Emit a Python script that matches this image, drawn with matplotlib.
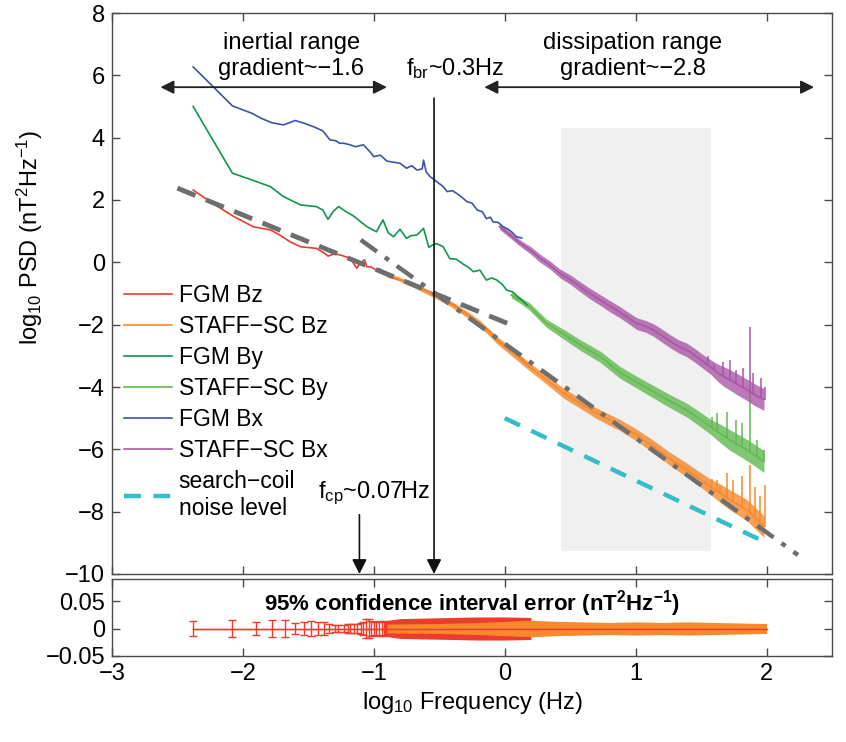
import numpy as np
import matplotlib
matplotlib.use("Agg")
import matplotlib.pyplot as plt

plt.rcParams["font.family"] = "Liberation Sans"
plt.rcParams["mathtext.fontset"] = "custom"
plt.rcParams["mathtext.rm"] = "Liberation Sans"
plt.rcParams["mathtext.it"] = "Liberation Sans:italic"
plt.rcParams["mathtext.bf"] = "Liberation Sans:bold"

# ---------------- data (log10 f, log10 PSD) ----------------
# FGM Bx (blue)
fgm_bx_x = [-2.38, -2.08, -1.93, -1.86, -1.78, -1.69, -1.60, -1.53, -1.46, -1.39, -1.335, -1.29,
            -1.26, -1.23, -1.18, -1.14, -1.08, -1.03, -1.0, -0.95, -0.90, -0.875, -0.80, -0.75,
            -0.71, -0.67, -0.63, -0.62, -0.60, -0.57, -0.52, -0.47, -0.44, -0.40, -0.37, -0.33,
            -0.29, -0.25, -0.21, -0.17, -0.14, -0.11, -0.09, -0.05, -0.01, 0.03, 0.06, 0.09, 0.13]
fgm_bx_y = [6.27, 5.02, 4.78, 4.62, 4.48, 4.41, 4.55, 4.46, 4.35, 4.22, 3.93, 3.90,
            3.82, 3.82, 3.77, 3.71, 3.77, 3.55, 3.39, 3.44, 3.25, 3.23, 3.18, 3.02,
            3.10, 2.96, 3.00, 3.28, 2.90, 2.75, 2.59, 2.43, 2.27, 2.30, 2.22, 2.10,
            1.95, 1.90, 1.68, 1.62, 1.40, 1.45, 1.30, 1.28, 1.14, 1.05, 0.95, 0.82, 0.78]

# STAFF-SC Bx (magenta): centre and half thickness of the noisy trace
sc_bx_x = [-0.04, 0.05, 0.12, 0.20, 0.27, 0.35, 0.42, 0.50, 0.575, 0.65, 0.73, 0.80, 0.88,
           0.95, 1.01, 1.08, 1.135, 1.20, 1.27, 1.33, 1.39, 1.45, 1.51, 1.57, 1.63, 1.68,
           1.72, 1.78, 1.85, 1.91, 1.98]
sc_bx_y = [1.15, 0.85, 0.61, 0.38, 0.13, -0.10, -0.35, -0.55, -0.78, -1.0, -1.21, -1.40, -1.60,
           -1.80, -1.97, -2.06, -2.17, -2.35, -2.55, -2.70, -2.81, -2.98, -3.17, -3.35, -3.55, -3.68,
           -3.77, -3.92, -4.09, -4.25, -4.40]
sc_bx_hw = [0.09, 0.10, 0.10, 0.12, 0.13, 0.13, 0.14, 0.15, 0.16, 0.17, 0.17, 0.18, 0.18,
            0.18, 0.19, 0.19, 0.20, 0.21, 0.21, 0.21, 0.22, 0.22, 0.22, 0.23, 0.28, 0.32,
            0.33, 0.34, 0.34, 0.35, 0.35]
sc_bx_spike_x = [1.555, 1.60, 1.67, 1.72, 1.77, 1.82, 1.875, 1.90, 1.96, 1.99]
sc_bx_spike_lo = [-3.30, -3.45, -3.62, -3.77, -3.90, -4.02, -4.15, -4.20, -4.35, -4.42]
sc_bx_spike_hi = [-3.02, -3.25, -3.19, -3.13, -3.45, -3.40, -2.06, -3.56, -3.72, -3.99]

# FGM By (dark green)
fgm_by_x = [-2.38, -2.08, -1.97, -1.79, -1.69, -1.56, -1.44, -1.39, -1.35, -1.31, -1.27, -1.22,
            -1.16, -1.10, -1.055, -0.98, -0.93, -0.89, -0.85, -0.80, -0.75, -0.72, -0.67, -0.62,
            -0.58, -0.55, -0.52, -0.47, -0.42, -0.37, -0.32, -0.28, -0.24, -0.19, -0.14, -0.10,
            -0.06, -0.02, 0.015, 0.06, 0.10, 0.14, 0.17]
fgm_by_y = [5.0, 2.86, 2.70, 2.43, 2.11, 1.84, 1.79, 1.68, 1.38, 1.63, 1.79, 1.65,
            1.50, 1.30, 1.15, 0.98, 1.36, 0.95, 0.82, 1.06, 0.77, 0.85, 0.88, 1.09,
            0.48, 0.56, 0.60, 0.50, 0.12, 0.10, -0.05, -0.15, -0.30, -0.25, -0.57, -0.50,
            -0.57, -0.70, -0.89, -0.95, -1.10, -1.25, -1.37]

# STAFF-SC By (light green)
sc_by_x = [0.05, 0.12, 0.19, 0.32, 0.47, 0.575, 0.73, 0.88, 1.01, 1.135, 1.26, 1.39,
           1.48, 1.57, 1.65, 1.72, 1.85, 1.98]
sc_by_y = [-1.05, -1.22, -1.42, -1.96, -2.36, -2.65, -3.03, -3.53, -3.85, -4.15, -4.45, -4.74,
           -5.00, -5.27, -5.50, -5.70, -6.02, -6.39]
sc_by_hw = [0.09, 0.10, 0.12, 0.13, 0.16, 0.17, 0.18, 0.19, 0.19, 0.20, 0.21, 0.22,
            0.23, 0.24, 0.30, 0.33, 0.34, 0.35]
sc_by_spike_x = [1.58, 1.62, 1.70, 1.77, 1.81, 1.875, 1.925, 1.98]
sc_by_spike_lo = [-5.30, -5.42, -5.65, -5.80, -5.92, -6.08, -6.22, -6.39]
sc_by_spike_hi = [-4.95, -4.84, -4.79, -5.06, -5.16, -4.10, -5.70, -6.02]

# FGM Bz (red)
fgm_bz_x = [-2.38, -2.23, -2.07, -1.92, -1.79, -1.72, -1.64, -1.56, -1.44, -1.38, -1.35, -1.30,
            -1.26, -1.18, -1.13, -1.105, -1.07, -1.055, -1.02, -0.98, -0.95, -0.88, -0.80, -0.74,
            -0.67, -0.60, -0.545, -0.48, -0.44, -0.38, -0.32, -0.26, -0.19, -0.12, -0.06, 0.0,
            0.066, 0.13, 0.19]
fgm_bz_y = [2.32, 1.89, 1.47, 1.14, 1.04, 0.88, 0.66, 0.50, 0.45, 0.30, 0.20, 0.27,
            0.24, 0.13, -0.19, -0.03, 0.08, -0.14, -0.15, -0.25, -0.22, -0.46, -0.57, -0.62,
            -0.78, -0.90, -0.99, -1.12, -1.26, -1.38, -1.58, -1.74, -1.96, -2.20, -2.49, -2.70,
            -2.92, -3.10, -3.35]

# STAFF-SC Bz (orange)
sc_bz_x = [-0.90, -0.82, -0.70, -0.57, -0.44, -0.32, -0.19, -0.06, 0.066, 0.19, 0.32, 0.45,
           0.575, 0.70, 0.88, 1.01, 1.135, 1.26, 1.39, 1.48, 1.57, 1.65, 1.72, 1.85, 1.98]
sc_bz_y = [-0.42, -0.51, -0.73, -0.99, -1.26, -1.58, -1.96, -2.49, -2.92, -3.35, -3.77, -4.20,
           -4.52, -4.84, -5.22, -5.55, -5.91, -6.30, -6.66, -6.93, -7.20, -7.42, -7.62, -7.95, -8.48]
sc_bz_hw = [0.06, 0.06, 0.07, 0.08, 0.09, 0.10, 0.10, 0.12, 0.13, 0.13, 0.14, 0.16,
            0.16, 0.17, 0.18, 0.19, 0.20, 0.21, 0.22, 0.23, 0.25, 0.30, 0.32, 0.34, 0.35]
sc_bz_spike_x = [1.58, 1.62, 1.645, 1.70, 1.745, 1.81, 1.875, 1.91, 1.95, 1.99]
sc_bz_spike_lo = [-7.24, -7.35, -7.42, -7.56, -7.70, -7.85, -8.05, -8.15, -8.30, -8.50]
sc_bz_spike_hi = [-6.95, -6.98, -7.20, -6.77, -6.98, -6.87, -6.50, -7.20, -7.50, -7.14]

# fitted slopes and noise level (end points)
inertial_fit_x = [-2.50, 0.08]
inertial_fit_y = [2.38, -2.06]
dissip_fit_x = [-1.10, 2.24]
dissip_fit_y = [0.72, -9.39]
noise_x = [0.0, 2.0]
noise_y = [-5.0, -9.0]

# shaded interval
shade_x = [0.43, 1.573]
shade_y = [-9.25, 4.30]

# marked frequencies
f_br = -0.54
f_cp = -1.11

# 95% confidence interval errors
err_red_x = [-2.38, -2.08, -1.90, -1.78, -1.68, -1.60, -1.535, -1.48, -1.43, -1.38, -1.34, -1.30,
             -1.27, -1.23, -1.20, -1.18, -1.15, -1.125, -1.10, -1.08, -1.06, -1.04, -1.02, -1.0,
             -0.98, -0.96, -0.94, -0.92]
err_red = [0.013, 0.0155, 0.0125, 0.016, 0.015, 0.0105, 0.012, 0.014, 0.011, 0.011, 0.008, 0.007,
           0.007, 0.007, 0.008, 0.008, 0.009, 0.009, 0.010, 0.012, 0.018, 0.017, 0.013, 0.012,
           0.012, 0.013, 0.012, 0.014]
err_red_band_x = [-0.92, -0.8, -0.6, -0.4, -0.2, 0.0, 0.2]
err_red_band = [0.014, 0.018, 0.019, 0.020, 0.021, 0.021, 0.020]
err_org_band_x = [-0.9, -0.5, -0.2, 0.0, 0.2, 0.4, 0.6, 0.8, 1.0, 1.2, 1.4, 1.6, 1.8, 2.0]
err_org_band = [0.008, 0.009, 0.011, 0.013, 0.015, 0.013, 0.012, 0.011, 0.012, 0.011, 0.012,
                0.011, 0.010, 0.009]

c_red = "#EE3B2C"
c_org = "#F5892C"
c_dgreen = "#12964A"
c_lgreen = "#62BA50"
c_blue = "#3A55A5"
c_mag = "#A957A6"
c_cyan = "#35BDC7"
c_fit = "#6E6E6E"
spine_c = "#4a4a4a"
FS = 17

fig = plt.figure(figsize=(8.46, 7.42), dpi=100)
ax = fig.add_axes([112 / 846, 1 - 574 / 742, 720 / 846, 561 / 742])
ax2 = fig.add_axes([112 / 846, 1 - 656 / 742, 720 / 846, 77 / 742])


def band(a, x, y, hw, color, label):
    x = np.array(x)
    y = np.array(y)
    hw = np.array(hw)
    a.fill_between(x, y - hw, y + hw, color=color, lw=0, alpha=0.8, zorder=2)
    line, = a.plot(x, y, color=color, lw=1.2, label=label, zorder=2)
    return line


# shaded region
ax.fill_between(shade_x, shade_y[0], shade_y[1], color="#F0F0F0", lw=0, zorder=0)

# spectra
l_fbz, = ax.plot(fgm_bz_x, fgm_bz_y, color=c_red, lw=1.2, label="FGM Bz", zorder=2)
l_sbz = band(ax, sc_bz_x, sc_bz_y, sc_bz_hw, c_org, "STAFF\u2212SC Bz")
ax.vlines(sc_bz_spike_x, sc_bz_spike_lo, sc_bz_spike_hi, color=c_org, lw=1.1, zorder=2)
l_fby, = ax.plot(fgm_by_x, fgm_by_y, color=c_dgreen, lw=1.2, label="FGM By", zorder=3)
l_sby = band(ax, sc_by_x, sc_by_y, sc_by_hw, c_lgreen, "STAFF\u2212SC By")
ax.vlines(sc_by_spike_x, sc_by_spike_lo, sc_by_spike_hi, color=c_lgreen, lw=1.1, zorder=2)
l_sbx = band(ax, sc_bx_x, sc_bx_y, sc_bx_hw, c_mag, "STAFF\u2212SC Bx")
ax.vlines(sc_bx_spike_x, sc_bx_spike_lo, sc_bx_spike_hi, color=c_mag, lw=1.1, zorder=2)
l_fbx, = ax.plot(fgm_bx_x, fgm_bx_y, color=c_blue, lw=1.2, label="FGM Bx", zorder=3)

# fits and noise level
ax.plot(inertial_fit_x, inertial_fit_y, color=c_fit, lw=3.5, dashes=(4, 2.3), zorder=4)
ax.plot(dissip_fit_x, dissip_fit_y, color=c_fit, lw=3.2, dashes=(4.5, 2.2, 1.1, 2.2), zorder=4)
l_noise, = ax.plot(noise_x, noise_y, color=c_cyan, lw=3.2, dashes=(3.8, 2.8),
                   label="search\u2212coil\nnoise level", zorder=4)

# range arrows and labels
arrow_kw = dict(arrowstyle="<|-|>", color="#222222", lw=1.3, mutation_scale=20,
                shrinkA=0, shrinkB=0)
ax.annotate("", xy=(-2.63, 5.62), xytext=(-0.90, 5.62), arrowprops=arrow_kw, zorder=5)
ax.annotate("", xy=(-0.156, 5.62), xytext=(2.363, 5.62), arrowprops=arrow_kw, zorder=5)
ax.text(-1.63, 6.84, "inertial range", ha="center", va="baseline", fontsize=FS)
ax.text(-1.63, 6.01, "gradient~\u22121.6", ha="center", va="baseline", fontsize=FS)
ax.text(0.98, 6.84, "dissipation range", ha="center", va="baseline", fontsize=FS)
ax.text(0.98, 6.01, "gradient~\u22122.8", ha="center", va="baseline", fontsize=FS)

# characteristic frequencies
down_kw = dict(arrowstyle="-|>", color="#111111", lw=1.2, mutation_scale=22,
               shrinkA=0, shrinkB=0)
ax.annotate("", xy=(f_br, -10), xytext=(f_br, 5.27), arrowprops=down_kw, zorder=5)
ax.annotate("", xy=(f_cp, -10), xytext=(f_cp, -8.1), arrowprops=down_kw, zorder=5)
ax.text(-0.754, 6.01, r"f$_{\mathrm{br}}$~0.3Hz", ha="left", va="baseline", fontsize=FS)
ax.text(-1.426, -7.56, r"f$_{\mathrm{cp}}$~0.07Hz", ha="left", va="baseline", fontsize=FS)

ax.legend(handles=[l_fbz, l_sbz, l_fby, l_sby, l_fbx, l_sbx, l_noise],
          loc="upper left", bbox_to_anchor=(0.016, 0.517), frameon=False, fontsize=FS - 0.5,
          handlelength=2.1, handletextpad=0.3, labelspacing=0.35, borderpad=0, borderaxespad=0)

ax.set_xlim(-3, 2.5)
ax.set_ylim(-10, 8)
ax.set_xticks(np.arange(-3, 3))
ax.set_yticks(np.arange(-10, 9, 2))
ax.tick_params(labelbottom=False)
ax.set_ylabel(r"log$_{10}$ PSD (nT$^2$Hz$^{-1}$)", fontsize=FS)
ax.yaxis.set_label_coords(-0.093, 0.6)

# confidence interval panel
ax2.plot([err_red_x[0], err_org_band_x[-1]], [0, 0], color=c_red, lw=1)
ax2.errorbar(err_red_x, np.zeros(len(err_red_x)), yerr=err_red, color=c_red, lw=1,
             capsize=3, capthick=1, elinewidth=1)
ax2.fill_between(err_red_band_x, -np.array(err_red_band), err_red_band, color=c_red, lw=0)
ax2.fill_between(err_org_band_x, -np.array(err_org_band), err_org_band, color=c_org, lw=0)
ax2.text(-0.25, 0.046, r"95% confidence interval error (nT$^{\mathbf{2}}$Hz$^{\mathbf{-1}}$)",
         ha="center", va="center", fontsize=16, fontweight="bold")
ax2.set_xlim(-3, 2.5)
ax2.set_ylim(-0.05, 0.09)
ax2.set_xticks(np.arange(-3, 3))
ax2.set_yticks([-0.05, 0, 0.05])
ax2.set_yticklabels(["\u22120.05", "0", "0.05"])
ax2.set_xlabel(r"log$_{10}$ Frequency (Hz)", fontsize=FS)

for a in (ax, ax2):
    a.tick_params(direction="in", length=6, width=1, top=True, right=True,
                  labelsize=FS, color=spine_c, pad=5)
    for s in a.spines.values():
        s.set_color(spine_c)
        s.set_linewidth(1.0)

fig.savefig("out.png", dpi=100)
